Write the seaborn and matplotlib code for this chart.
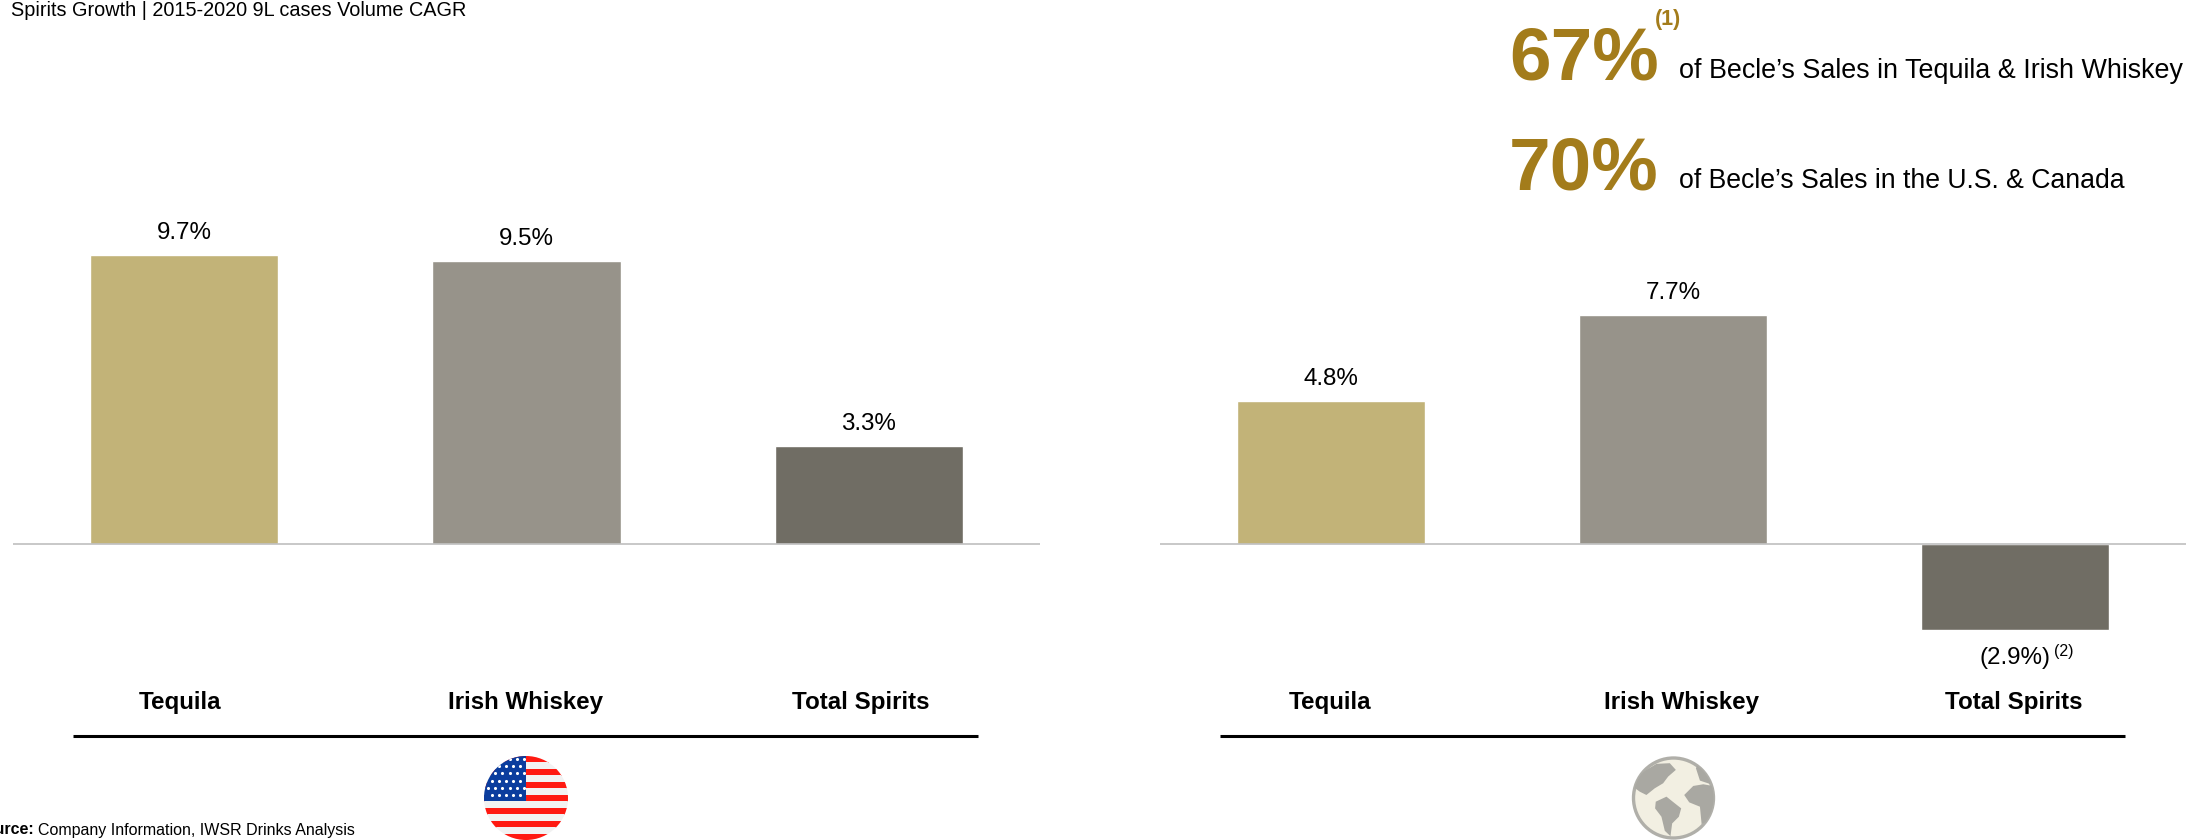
import matplotlib
matplotlib.use('Agg')
import matplotlib.pyplot as plt
from matplotlib.patches import Circle, Polygon, Rectangle
import pandas as pd
import seaborn as sns

W, H = 2207, 840

# values
categories = ['Tequila', 'Irish Whiskey', 'Total Spirits']
us_values = [9.7, 9.5, 3.3]
world_values = [4.8, 7.7, -2.9]
colors = ['#C2B378', '#97938A', '#706D64']

title = 'Spirits Growth | 2015-2020 9L cases Volume CAGR'
stat_numbers = ['67%', '70%']
stat_texts = ['of Becle\u2019s Sales in Tequila & Irish Whiskey',
              'of Becle\u2019s Sales in the U.S. & Canada']
stat_sizes = [19.35, 19.15]

GOLD = '#A37C1B'
PX_PER_UNIT = 29.75
BASE_Y = 544

sns.set_theme(style='white')
plt.rcParams['font.family'] = ['Liberation Sans', 'DejaVu Sans']


def fmt(v):
    return f'{v:.1f}%' if v >= 0 else f'({-v:.1f}%)'


def bar_panel(fig, values, left, right):
    top, bottom = 200, 660
    ax = fig.add_axes([left / W, 1 - bottom / H, (right - left) / W, (bottom - top) / H])
    df = pd.DataFrame({'cat': categories, 'val': values})
    sns.barplot(data=df, x='cat', y='val', hue='cat', palette=colors, dodge=False,
                width=0.55, legend=False, saturation=1, ax=ax)
    ax.set_ylim((BASE_Y - bottom) / PX_PER_UNIT, (BASE_Y - top) / PX_PER_UNIT)
    ax.axhline(0, color='#BFBFBF', lw=1.2)
    ax.set_xlabel('')
    ax.set_ylabel('')
    ax.set_xticks([])
    ax.set_yticks([])
    sns.despine(ax=ax, left=True, bottom=True)
    ax.patch.set_alpha(0)
    for i, v in enumerate(values):
        ax.annotate(fmt(v), (i, v), xytext=(0, 22 if v >= 0 else -28), textcoords='offset pixels',
                    ha='center', va='center', fontsize=17.4, color='black')
    return ax


def us_flag(ov, cx, cy, r):
    clip = Circle((cx, cy), r, transform=ov.transData)
    stripe = 2 * r / 13
    for i in range(13):
        c = '#FF1A12' if i % 2 == 0 else '#F2F2F2'
        p = Rectangle((cx - r, cy - r + i * stripe), 2 * r, stripe + 0.5, color=c, lw=0)
        ov.add_patch(p)
        p.set_clip_path(clip)
    p = Rectangle((cx - r, cy - r), r, r + 3, color='#0B3D9E', lw=0)
    ov.add_patch(p)
    p.set_clip_path(clip)
    for row in range(6):
        for col in range(6):
            x = cx - r + 4 + col * 7.2 + (row % 2) * 3.6
            y = cy - r + 3 + row * 7.2
            if x < cx - 1:
                s = ov.scatter(x, y, s=5, color='white', lw=0, zorder=3)
                s.set_clip_path(clip)


def globe(ov, cx, cy, r):
    land = '#A9A8A2'
    bg = Circle((cx, cy), r - 1.5, facecolor='#F2EFE2', edgecolor='#B0AFA9', lw=2.4)
    ov.add_patch(bg)
    clip = Circle((cx, cy), r - 1.5, transform=ov.transData)
    shapes = [
        [(100, 500), (115, 470), (140, 450), (170, 432), (210, 430), (228, 450), (205, 470),
         (190, 490), (165, 505), (140, 525), (120, 515)],
        [(168, 545), (200, 530), (225, 550), (244, 565), (237, 590), (217, 610), (212, 648),
         (195, 632), (185, 590), (166, 565)],
        [(253, 525), (280, 498), (310, 493), (350, 500), (350, 565), (325, 602), (305, 612),
         (300, 560), (268, 547)],
        [(288, 445), (298, 425), (335, 465), (330, 492), (300, 482)],
    ]
    for pts in shapes:
        # points traced from the zoomed icon, centre (221, 534), radius 124
        xy = [(cx + (x - 221) / 124 * r, cy + (y - 534) / 124 * r) for x, y in pts]
        p = Polygon(xy, closed=True, color=land, lw=0)
        ov.add_patch(p)
        p.set_clip_path(clip)


fig = plt.figure(figsize=(W / 100, H / 100), dpi=100, facecolor='white')

bar_panel(fig, us_values, 13, 1040)
bar_panel(fig, world_values, 1160, 2186)

# overlay in pixel coordinates for the slide furniture
ov = fig.add_axes([0, 0, 1, 1])
ov.set_xlim(0, W)
ov.set_ylim(H, 0)
ov.axis('off')
ov.patch.set_alpha(0)

ov.text(11, 10, title, fontsize=14.35, color='black', ha='left', va='center')

for num, txt, size, base in zip(stat_numbers, stat_texts, stat_sizes, [79, 189]):
    ov.text(1509, base, num, fontsize=53.8, fontweight='bold', color=GOLD, ha='left', va='baseline')
    ov.text(1679, base - 1, txt, fontsize=size, color='black', ha='left', va='baseline')
ov.text(1655, 25, '(1)', fontsize=15.5, fontweight='bold', color=GOLD, ha='left', va='baseline')

ov.text(2054, 656, '(2)', fontsize=11.5, color='black', ha='left', va='baseline')

# category labels do not sit exactly under the bars in the original
for x, name in zip([180, 526, 861], categories):
    ov.text(x, 703, name, fontsize=17.4, fontweight='bold', color='black', ha='center', va='center')
for x, name in zip([1330, 1682, 2014], categories):
    ov.text(x, 703, name, fontsize=17.4, fontweight='bold', color='black', ha='center', va='center')

ov.plot([73, 978], [736, 736], color='black', lw=2.2, solid_capstyle='butt')
ov.plot([1220, 2125], [736, 736], color='black', lw=2.2, solid_capstyle='butt')

us_flag(ov, 526, 798, 42)
globe(ov, 1673.5, 798, 41.5)

ov.text(38, 830, 'Company Information, IWSR Drinks Analysis', fontsize=11.5, color='black',
        ha='left', va='center')
ov.text(34, 830, 'Source:', fontsize=11.5, fontweight='bold', color='black', ha='right', va='center')

fig.savefig('out.png', dpi=100)
